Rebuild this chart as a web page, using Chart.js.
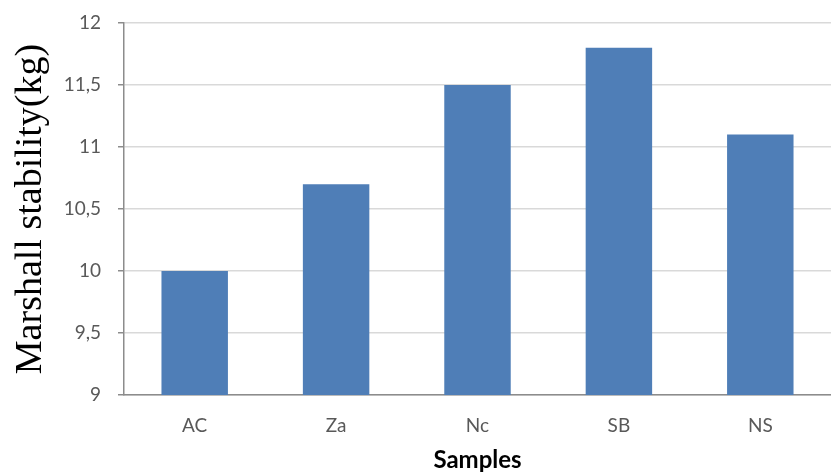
<!DOCTYPE html>
<html>
<head>
<meta charset="utf-8">
<script src="https://cdn.jsdelivr.net/npm/chart.js@4"></script>
<style>
  html, body { margin: 0; padding: 0; background: #fff; }
  #wrap { width: 831px; height: 474px; }
</style>
</head>
<body>
<div id="wrap"><canvas id="chart" width="831" height="474"></canvas></div>
<script>
const samples = ['AC', 'Za', 'Nc', 'SB', 'NS'];
const stability = [10, 10.7, 11.5, 11.8, 11.1];
const yMin = 9;
const yMax = 12;
const yStep = 0.5;

const ctx = document.getElementById('chart').getContext('2d');

const chart = new Chart(ctx, {
  type: 'bar',
  data: {
    labels: samples,
    datasets: [{
      label: 'Marshall stability',
      data: stability,
      backgroundColor: '#4f7eb7',
      borderWidth: 0,
      categoryPercentage: 1,
      barPercentage: 0.47
    }]
  },
  options: {
    responsive: false,
    animation: false,
    layout: { padding: { top: 23, right: 0, bottom: 0, left: 0 } },
    plugins: {
      legend: { display: false },
      tooltip: { enabled: false }
    },
    scales: {
      x: {
        grid: { display: false, drawTicks: false },
        border: { display: true, color: '#8c8c8c', width: 1.5 },
        ticks: {
          color: '#595959',
          font: { family: 'Lato', size: 19 },
          padding: 19
        },
        title: {
          display: true,
          text: 'Samples',
          color: '#000',
          font: { family: 'Lato', size: 24, weight: 'bold' },
          padding: { top: 0, bottom: -1 }
        },
        afterFit: function (scale) { scale.height = 79; }
      },
      y: {
        min: yMin,
        max: yMax,
        grid: { color: '#d9d9d9', lineWidth: 1.5, tickLength: 6, tickColor: '#8c8c8c' },
        border: { display: true, color: '#8c8c8c', width: 1.5 },
        ticks: {
          stepSize: yStep,
          color: '#595959',
          font: { family: 'Lato', size: 19 },
          padding: 17,
          // comma as decimal mark
          callback: function (value) {
            return String(value).replace('.', ',');
          }
        },
        title: {
          display: true,
          text: 'Marshall stability(kg)',
          color: '#000',
          font: { family: 'Liberation Serif', size: 38 },
          padding: { top: 8, bottom: 0 }
        },
        afterFit: function (scale) {
          scale.width = 124;
          scale.paddingTop = 0;
          scale.paddingBottom = 0;
        }
      }
    }
  }
});
</script>
</body>
</html>
